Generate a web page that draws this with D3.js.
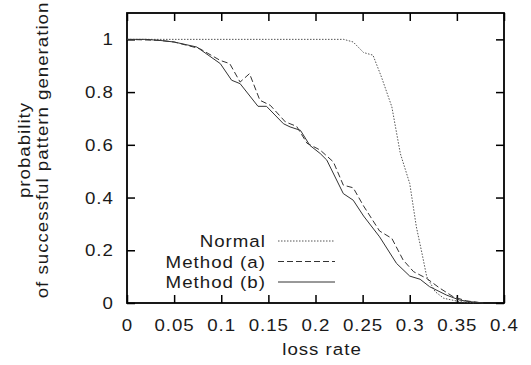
<!DOCTYPE html>
<html><head><meta charset="utf-8">
<script src="https://cdn.jsdelivr.net/npm/d3@7"></script>
<style>body{margin:0;background:#fff}svg{display:block}text{font-family:"Liberation Sans",Arial,sans-serif;fill:#1a1a1a}</style>
</head><body>
<svg id="c" width="531" height="365"></svg>
<script>
const xTicks = [0,0.05,0.1,0.15,0.2,0.25,0.3,0.35,0.4];
const yTicks = [0,0.2,0.4,0.6,0.8,1];
const seriesNames = ["Normal","Method (a)","Method (b)"];
const normalX = [0,0.05,0.1,0.15,0.2,0.23,0.24,0.251,0.261,0.27,0.281,0.29,0.3,0.307,0.313,0.318,0.327,0.336,0.353,0.37];
const normalY = [1,1,1,1,1,1,0.99,0.95,0.94,0.857,0.744,0.567,0.453,0.289,0.188,0.10,0.043,0.018,0.005,0];
const methodAX = [0,0.035,0.05,0.077,0.099,0.109,0.12,0.13,0.141,0.152,0.168,0.18,0.191,0.205,0.219,0.2295,0.24,0.251,0.268,0.281,0.293,0.304,0.318,0.332,0.346,0.36,0.378];
const methodAY = [1,0.996,0.99,0.965,0.92,0.908,0.838,0.87,0.769,0.75,0.687,0.67,0.606,0.58,0.535,0.447,0.437,0.368,0.273,0.245,0.163,0.119,0.093,0.056,0.024,0.008,0];
const methodBX = [0,0.02,0.035,0.05,0.074,0.099,0.111,0.12,0.139,0.148,0.166,0.173,0.184,0.194,0.205,0.212,0.2295,0.24,0.251,0.268,0.286,0.3,0.311,0.321,0.339,0.353,0.364,0.378];
const methodBY = [1,1,0.996,0.99,0.971,0.908,0.845,0.832,0.746,0.746,0.68,0.668,0.655,0.598,0.567,0.542,0.415,0.39,0.33,0.251,0.15,0.102,0.09,0.062,0.03,0.011,0.005,0];

const svg = d3.select("#c");
const L=127, R=504, T=13, B=303;
const x = d3.scaleLinear().domain([0,0.4]).range([L,R]);
const y = d3.scaleLinear().domain([0,1.1]).range([B,T]);
const tl = 8, FS = 17, SX = 1.1, LS = 0.9;

function label(px, py, txt, anchor, rot){
  return svg.append("text")
    .attr("transform", `translate(${px},${py})` + (rot?` rotate(${rot})`:"") + ` scale(${SX},1)`)
    .attr("text-anchor", anchor).attr("font-size", FS).attr("letter-spacing", LS).text(txt);
}

const g = svg.append("g");
g.append("g").attr("transform",`translate(0,${B})`)
  .call(d3.axisBottom(x).tickValues(xTicks).tickFormat("").tickSize(-tl))
  .call(a=>a.select(".domain").remove());
g.append("g").attr("transform",`translate(0,${T})`)
  .call(d3.axisTop(x).tickValues(xTicks).tickFormat("").tickSize(-tl))
  .call(a=>a.select(".domain").remove());
g.append("g").attr("transform",`translate(${L},0)`)
  .call(d3.axisLeft(y).tickValues(yTicks).tickFormat("").tickSize(-tl))
  .call(a=>a.select(".domain").remove());
g.append("g").attr("transform",`translate(${R},0)`)
  .call(d3.axisRight(y).tickValues(yTicks).tickFormat("").tickSize(-tl))
  .call(a=>a.select(".domain").remove());
g.selectAll(".tick line").attr("stroke","#000").attr("stroke-width",1.5);

xTicks.forEach(v=>label(x(v)+LS/2, 331, String(v), "middle"));
yTicks.forEach(v=>label(113+LS, y(v)+6, String(v), "end"));

svg.append("rect").attr("x",L).attr("y",T).attr("width",R-L).attr("height",B-T)
  .attr("fill","none").attr("stroke","#000").attr("stroke-width",1.8);

const line = d3.line().x(d=>x(d[0])).y(d=>y(d[1]));
const styles = [
  {xs:normalX, ys:normalY, dash:"1.5,1.5", color:"#555"},
  {xs:methodAX, ys:methodAY, dash:"6,3", color:"#333"},
  {xs:methodBX, ys:methodBY, dash:null, color:"#333"}
];
styles.forEach(s=>{
  const pts = s.xs.map((v,i)=>[v,s.ys[i]]);
  svg.append("path").attr("d",line(pts)).attr("fill","none").attr("stroke",s.color)
    .attr("stroke-width",1).attr("stroke-dasharray",s.dash);
});

// legend
seriesNames.forEach((n,i)=>{
  const cy = 241 + i*20.5;
  label(265+LS, cy+6, n, "end");
  svg.append("line").attr("x1",278).attr("x2",335).attr("y1",cy).attr("y2",cy)
    .attr("stroke",styles[i].color).attr("stroke-width",1).attr("stroke-dasharray",styles[i].dash);
});

// axis labels
label(322, 355, "loss rate", "middle");
label(29.5, 150, "probability", "middle", -90);
label(47.5, 150, "of successful pattern generation", "middle", -90);
</script>
</body></html>
